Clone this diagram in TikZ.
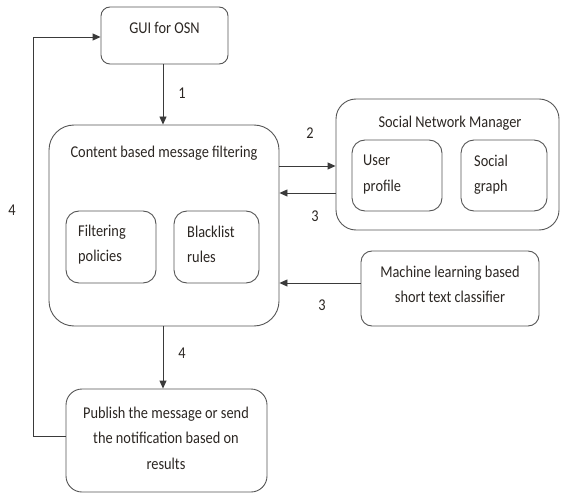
\documentclass[tikz,border=0pt]{standalone}
\usepackage{fontspec}
\setmainfont[FakeStretch=0.87]{Carlito}
\usetikzlibrary{arrows.meta}
\definecolor{txt}{HTML}{2B2622}
\definecolor{ln}{HTML}{3A3A3A}
\definecolor{bx}{HTML}{555555}
\tikzset{
  box/.style={draw=bx, line width=0.9pt, rounded corners=#1, inner sep=0pt},
  lbl/.style={text=txt, font=\fontsize{16.5}{25.5}\selectfont, inner sep=0pt},
  num/.style={text=txt, font=\fontsize{16.5}{18}\selectfont, inner sep=0pt},
  arr/.style={draw=ln, line width=0.9pt, -{Triangle[length=8pt,width=7pt]}},
}
\begin{document}
\begin{tikzpicture}[x=1pt,y=1pt]
\useasboundingbox (0,0) rectangle (561,493);
% boxes (y_tikz = 493 - y_px)
\node[box=9pt, minimum width=127pt, minimum height=57pt] (gui) at (164.5,457.5) {};
\node[lbl] (guit) at (164.5,465) {GUI for OSN};
\node[box=25pt, minimum width=230pt, minimum height=201pt] (cont) at (164,267.5) {};
\node[lbl] (contt) at (164,340) {Content based message filtering};
\node[box=13pt, minimum width=90pt, minimum height=72pt] (filt) at (111,246) {};
\node[lbl, anchor=west, align=left] (filtt) at (78,248.5) {Filtering\\policies};
\node[box=13pt, minimum width=85pt, minimum height=72pt] (black) at (216.5,246) {};
\node[lbl, anchor=west, align=left] (blackt) at (187,248.5) {Blacklist\\rules};
\node[box=20pt, minimum width=223pt, minimum height=131pt] (snm) at (447.5,328.5) {};
\node[lbl] (snmt) at (450,370) {Social Network Manager};
\node[box=13pt, minimum width=90pt, minimum height=71pt] (user) at (397,317.5) {};
\node[lbl, anchor=west, align=left] (usert) at (363,318.5) {User\\profile};
\node[box=13pt, minimum width=86pt, minimum height=71pt] (graph) at (504,317.5) {};
\node[lbl, anchor=west, align=left] (grapht) at (474,318.5) {Social\\graph};
\node[box=11pt, minimum width=178pt, minimum height=75pt] (ml) at (450,204.5) {};
\node[lbl, align=center] (mlt) at (450,208.5) {Machine learning based\\short text classifier};
\node[box=16pt, minimum width=201pt, minimum height=103pt] (pub) at (166.5,52.5) {};
\node[lbl, align=center] (pubt) at (166,55) {Publish the message or send\\the notification based on\\results};
% connectors
\draw[arr] (gui.south -| 163,0) -- (cont.north -| 163,0);
\node[num] (n1) at (182,400) {1};
\draw[arr] (cont.east |- 0,327) -- (snm.west |- 0,327);
\node[num] (n2) at (310,360) {2};
\draw[arr] (snm.west |- 0,300) -- (cont.east |- 0,300);
\node[num] (n3a) at (315,277) {3};
\draw[arr] (ml.west |- 0,210) -- (cont.east |- 0,210);
\node[num] (n3b) at (322,188) {3};
\draw[arr] (cont.south -| 163,0) -- (pub.north -| 163,0);
\node[num] (n4a) at (182,140) {4};
\coordinate (lb) at (33,57);
\coordinate (lt) at (33,456);
\draw[arr] (pub.west |- lb) -- (lb) -- (lt) -- (gui.west |- lt);
\node[num] (n4b) at (12,283) {4};
\end{tikzpicture}
\end{document}
